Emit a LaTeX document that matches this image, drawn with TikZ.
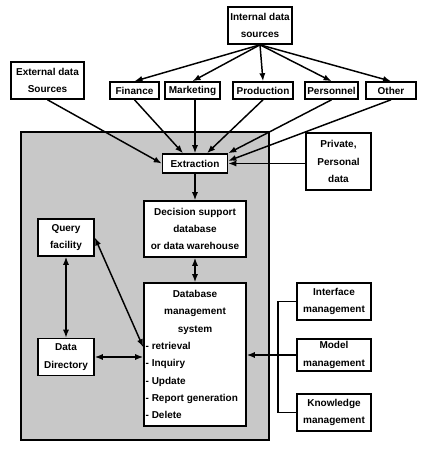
\documentclass[tikz,border=0pt]{standalone}
\usepackage{fontspec}
\setmainfont{Liberation Sans}
\usetikzlibrary{arrows.meta}
\definecolor{panel}{RGB}{200,200,200}
\tikzset{
    box/.style={rectangle, draw, fill=white, line width=1.2pt, align=center,
        inner sep=0pt, font=\fontsize{7.5}{13}\selectfont\bfseries}
}
\tikzset{
    sz/.style 2 args={minimum width=#1*0.75pt, minimum height=#2*0.75pt}
}
\tikzset{
    every edge/.append style={line width=1.1pt, -{Latex[length=6pt,width=4.6pt]}}
}
\begin{document}
\begin{tikzpicture}[x=0.75pt, y=-0.75pt]
  \useasboundingbox (0,0) rectangle (425,451);
  \node (back) [draw, fill=panel, line width=0.8pt, sz={248}{308}] at (145,286) {};

  \node (isrc) [box, sz={64}{37}] at (260,25.5) {Internal data\\sources};
  \node (ext) [box, sz={73}{37}] at (47.5,80.5) {External data\\Sources};
  \node (fin) [box, sz={49}{17}] at (134.5,90.5) {Finance};
  \node (mkt) [box, sz={55}{17}] at (192.5,90.5) {Marketing};
  \node (prod) [box, sz={60}{17}] at (263,90.5) {Production};
  \node (pers) [box, sz={53}{17}] at (331.5,90.5) {Personnel};
  \node (oth) [box, sz={50}{17}] at (391,90.5) {Other};
  \node (priv) [box, sz={65}{57}] at (338.5,161.5) {Private,\\Personal\\data};
  \node (extr) [box, sz={65}{19}] at (195,163.5) {Extraction};
  \node (dss) [box, sz={102}{56}] at (195,229) {Decision support\\database\\or data warehouse};
  \node (qry) [box, sz={56}{37}] at (66,237.5) {Query\\facility};
  \node (dbms) [box, sz={102}{143}] at (195,354.5) {Database\\management\\system\\
    \makebox[74pt][l]{- retrieval}\\\makebox[74pt][l]{- Inquiry}\\
    \makebox[74pt][l]{- Update}\\\makebox[74pt][l]{- Report generation}\\
    \makebox[74pt][l]{- Delete}};
  \node (ddir) [box, sz={56}{37}] at (66,357) {Data\\Directory};
  \node (intf) [box, sz={74}{37}] at (334,301.5) {Interface\\management};
  \node (modl) [box, sz={74}{32}] at (334,355) {Model\\management};
  \node (know) [box, sz={74}{37}] at (334,412.5) {Knowledge\\management};
  \coordinate (brk) at (278,355);

  \draw (isrc.south) edge (fin.north); \draw (isrc.south) edge (mkt.north);
  \draw (isrc.south) edge (prod.north); \draw (isrc.south) edge (pers.north);
  \draw (isrc.south) edge (oth.north);
  \draw (ext.south) edge (extr.west); \draw (fin.south) edge ([xshift=-9pt]extr.north);
  \draw (mkt.south -| extr.north) edge (extr.north);
  \draw (prod.south) edge ([xshift=9pt]extr.north);
  \draw (pers.south) edge (extr.north east);
  \draw (oth.south) edge ([yshift=2pt]extr.east);
  \draw (priv.west |- extr.east) edge (extr.east);
  \draw (extr) edge (dss);
  \draw (dss) edge[{Latex[length=6pt,width=4.6pt]}-{Latex[length=6pt,width=4.6pt]}] (dbms);
  \draw (qry) edge[{Latex[length=6pt,width=4.6pt]}-{Latex[length=6pt,width=4.6pt]}] (ddir);
  \draw (qry.east) edge[{Latex[length=6pt,width=4.6pt]}-{Latex[length=6pt,width=4.6pt]}] ([yshift=5.5pt]dbms.west);
  \draw (ddir.east) edge[{Latex[length=6pt,width=4.6pt]}-{Latex[length=6pt,width=4.6pt]}] (ddir.east -| dbms.west);
  \draw[line width=1.1pt] (intf.west) -| (brk) |- (know.west);
  \draw (modl.west) edge (modl.west -| dbms.east);
\end{tikzpicture}
\end{document}
